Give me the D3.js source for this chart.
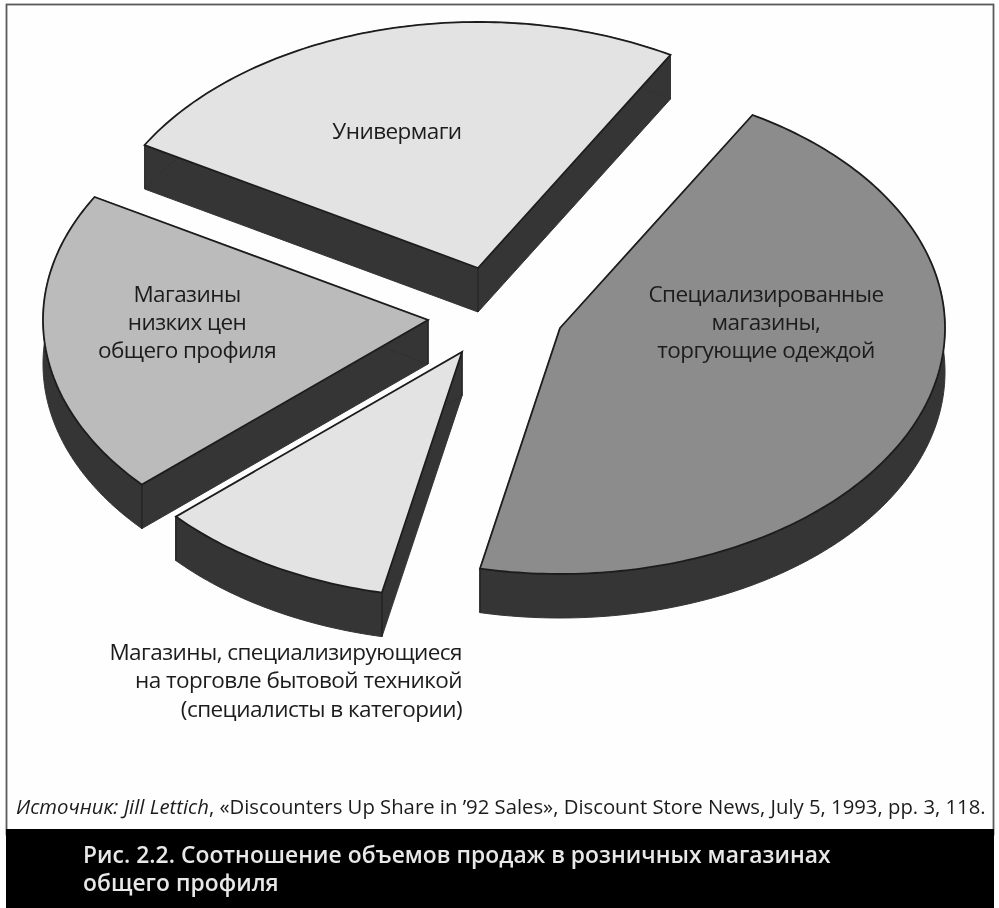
<!DOCTYPE html>
<html lang="ru"><head><meta charset="utf-8">
<script src="https://cdnjs.cloudflare.com/ajax/libs/d3/7.8.5/d3.min.js"></script>
<style>html,body{margin:0;padding:0;background:#fefefe}svg{display:block}text{font-family:"Open Sans",sans-serif;fill:#1c1c1c}</style>
</head><body><svg id="c" width="999" height="908"></svg>
<script>
const categories = ["Специализированные магазины, торгующие одеждой","Магазины, специализирующиеся на торговле бытовой техникой (специалисты в категории)","Магазины низких цен общего профиля","Универмаги"];
const shares = [45,10,20,25];
const sliceColors = ["#8c8c8c","#e3e3e3","#bbbbbb","#e3e3e3"];
const sourceLabel = "Discounters Up Share in ’92 Sales";
const titleLines = ["Рис. 2.2. Соотношение объемов продаж в розничных магазинах","общего профиля"];

const W=999,H=908,RX=385,RY=246,DEPTH=44;
const svg=d3.select("#c");
const defs=svg.append("defs");
defs.append("filter").attr("id","scan").attr("x",0).attr("y",0).attr("width",1).attr("height",1)
  .append("feGaussianBlur").attr("stdDeviation",0.6);
const root=svg.append("g").attr("filter","url(#scan)");
root.append("rect").attr("width",W).attr("height",H).attr("fill","#fefefe");
root.append("rect").attr("x",6.5).attr("y",4.5).attr("width",987).attr("height",830).attr("fill","none").attr("stroke","#5a5a5a").attr("stroke-width",1.8);
root.append("rect").attr("x",6).attr("y",829).attr("width",988).attr("height",79).attr("fill","#030303");

const pie=d3.pie().sort(null).startAngle(Math.PI/6).endAngle(Math.PI/6+2*Math.PI);
const arcs=pie(shares);
const color=d3.scaleOrdinal().domain(categories).range(sliceColors);
const sx=d3.scaleLinear().domain([-1,1]).range([-RX,RX]);
const sy=d3.scaleLinear().domain([-1,1]).range([-RY,RY]);
const centers=[[560,328],[462,352],[428,320],[478,268]];
const line=d3.line();
arcs.forEach((a,i)=>{
  const [cx,cy]=centers[i];
  const P=(t,dz=0)=>[cx+sx(Math.sin(t)),cy-sy(Math.cos(t))+dz];
  const n=Math.ceil((a.endAngle-a.startAngle)*60);
  const ts=d3.range(n+1).map(k=>a.startAngle+(a.endAngle-a.startAngle)*k/n);
  const rim=ts.map(t=>P(t));
  const g=root.append("g");
  const O=[cx,cy],Od=[cx,cy+DEPTH];
  const faces=[[O,P(a.startAngle),P(a.startAngle,DEPTH),Od],[O,P(a.endAngle),P(a.endAngle,DEPTH),Od],
    rim.concat(ts.map(t=>P(t,DEPTH)).reverse())];
  faces.forEach(f=>g.append("path").attr("d",line(f)+"Z").attr("fill","#343434").attr("stroke","#343434").attr("stroke-width",1));
  g.append("path").attr("d",line([O].concat(rim))+"Z").attr("fill",color(categories[i])).attr("stroke","#1e1e1e").attr("stroke-width",1.8).attr("stroke-linejoin","miter");
  const edges=[P(a.startAngle),P(a.endAngle)].filter(p=>p[1]>cy);
  if(i!==0) edges.push(O);
  edges.forEach(p=>g.append("path").attr("d",line([p,[p[0],p[1]+DEPTH]])).attr("stroke","#1e1e1e").attr("stroke-width",1).attr("fill","none"));
});

const labels=[
 {x:766,a:"middle",ys:[302,330,358],t:["Специализированные","магазины,","торгующие одеждой"]},
 {x:462,a:"end",ys:[660,688,717],t:["Магазины, специализирующиеся","на торговле бытовой техникой","(специалисты в категории)"]},
 {x:187,a:"middle",ys:[302,330,358],t:["Магазины","низких цен","общего профиля"]},
 {x:397,a:"middle",ys:[139],t:["Универмаги"]}
];
labels.forEach(l=>l.t.forEach((s,i)=>root.append("text").attr("x",l.x).attr("y",l.ys[i]).attr("text-anchor",l.a)
  .attr("font-size",22.5).attr("letter-spacing",-0.55).text(s)));

const src=root.append("text").attr("x",16).attr("y",814).attr("font-size",20.3);
src.append("tspan").attr("font-style","italic").text("Источник: Jill Lettich");
src.append("tspan").text(", «"+sourceLabel+"», Discount Store News, July 5, 1993, pp. 3, 118.");
titleLines.forEach((s,i)=>root.append("text").attr("x",83).attr("y",863+i*28).attr("font-size",22.8).attr("letter-spacing",0.05).attr("font-weight",600).style("fill","#e8e8e8").text(s));
</script></body></html>
